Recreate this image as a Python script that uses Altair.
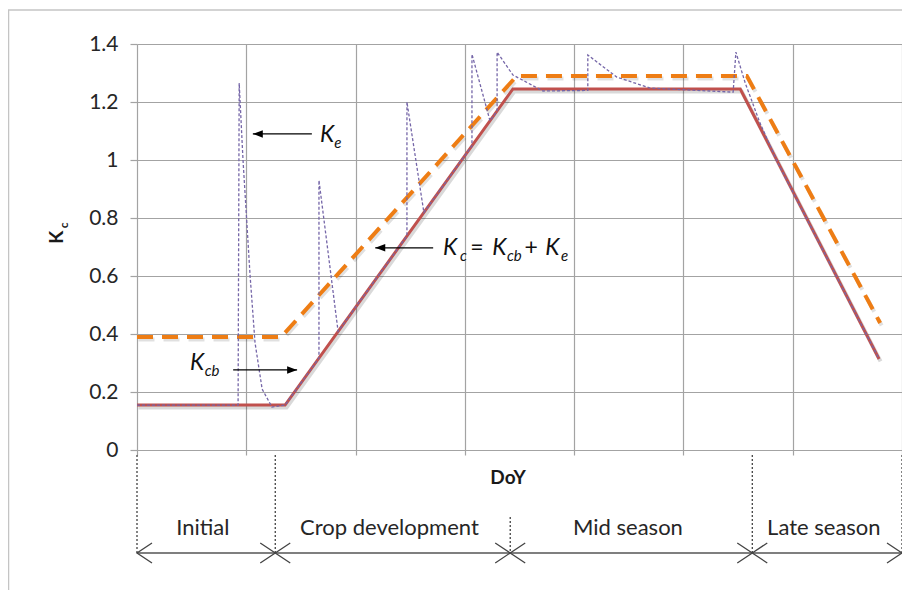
import altair as alt
import pandas as pd

# ---------------- data ----------------
# Basal crop coefficient Kcb (solid red)
kcb_day = [0, 27.1, 68.8, 110.4, 135.8]
kcb_val = [0.155, 0.155, 1.245, 1.245, 0.314]

# Crop coefficient Kc = Kcb + Ke (dashed orange)
kc_day = [0, 26.4, 69.5, 111.6, 136.0]
kc_val = [0.39, 0.39, 1.29, 1.29, 0.438]

# Daily Kcb + Ke trace (dotted purple)
ke_day = [0, 18.5, 18.7, 19.4, 20.7, 21.6, 22.9, 24.7, 27.1,
          33.3, 33.3, 36.8, 49.4, 49.4, 52.5, 61.3, 61.3, 64.6,
          65.9, 65.9, 68.8, 74.3, 82.5, 82.5, 87.8, 93.9, 109.1,
          109.6, 111.3, 114.0, 117.1, 135.8]
ke_val = [0.155, 0.155, 1.265, 1.0, 0.60, 0.37, 0.21, 0.148, 0.155,
          0.317, 0.93, 0.409, 0.738, 1.20, 0.819, 1.049, 1.365, 1.135,
          1.169, 1.372, 1.293, 1.238, 1.24, 1.362, 1.286, 1.248, 1.234,
          1.372, 1.266, 1.128, 0.997, 0.314]

# axis ticks
x_grid = [0, 20, 40, 60, 80, 100, 120, 140]
y_ticks = [0, 0.2, 0.4, 0.6, 0.8, 1.0, 1.2, 1.4]

# growth stages
stage_names = ["Initial", "Crop development", "Mid season", "Late season"]
stage_bounds = [0, 25.3, 68.3, 112.6, 140]
stage_line_top = [-0.017, -0.017, -0.231, -0.017, -0.017]
stage_line_bottom = -0.355
stage_label_y = -0.269

# math annotations
math_K_day = [33.5, 56.0, 65.0, 74.7, 9.7]
math_K_val = [1.062, 0.672, 0.672, 0.672, 0.276]
math_sub_text = ["e", "c", "cb", "e", "cb"]
math_sub_day = [36.1, 59.1, 67.7, 77.6, 12.4]
math_sub_val = [1.041, 0.652, 0.652, 0.652, 0.255]
math_op_text = ["=", "+"]
math_op_day = [61.0, 70.9]
math_op_val = [0.672, 0.672]

arrow_start_day = [32.0, 54.2, 17.6]
arrow_end_day = [21.2, 43.6, 29.3]
arrow_val = [1.090, 0.697, 0.276]
arrow_dir = ["left", "left", "right"]

GRID = "#a3a3a3"
FONT = "Lato"
TXT = "#262626"

# ---------------- tables ----------------
kcb_df = pd.DataFrame({"day": kcb_day, "val": kcb_val, "i": range(len(kcb_day))})
kc_df = pd.DataFrame({"day": kc_day, "val": kc_val, "i": range(len(kc_day))})
ke_df = pd.DataFrame({"day": ke_day, "val": ke_val, "i": range(len(ke_day))})

vlines_df = pd.DataFrame({"day": stage_bounds, "top": stage_line_top,
                          "bottom": [stage_line_bottom] * len(stage_bounds)})
seg_df = pd.DataFrame({
    "name": stage_names,
    "start": stage_bounds[:-1],
    "end": stage_bounds[1:],
    "y": [stage_line_bottom] * len(stage_names),
    "ly": [stage_label_y] * len(stage_names),
})
seg_df["mid"] = (seg_df["start"] + seg_df["end"]) / 2 - 0.6

K_df = pd.DataFrame({"day": math_K_day, "val": math_K_val, "t": ["K"] * len(math_K_day)})
sub_df = pd.DataFrame({"day": math_sub_day, "val": math_sub_val, "t": math_sub_text})
op_df = pd.DataFrame({"day": math_op_day, "val": math_op_val, "t": math_op_text})
arr_df = pd.DataFrame({"s": arrow_start_day, "e": arrow_end_day, "val": arrow_val, "dir": arrow_dir})

xs = alt.Scale(domain=[0, 140], nice=False)
ys = alt.Scale(domain=[0, 1.4], nice=False)

AX_X = alt.Axis(values=x_grid, labels=False, domain=False, ticks=True,
                tickSize=5, tickColor=GRID, grid=True, gridColor=GRID,
                gridWidth=1.2, tickWidth=1.2, title=None)
AX_Y = alt.Axis(values=y_ticks, format=".1~f", domain=False, ticks=True,
                tickSize=7, tickColor=GRID, grid=True, gridColor=GRID,
                gridWidth=1.2, tickWidth=1.2, labelFont=FONT, labelFontSize=21,
                labelColor=TXT, labelPadding=12, title=None)


def X(f):
    return alt.X(f, type="quantitative", scale=xs, axis=AX_X, title=None)


def Y(f):
    return alt.Y(f, type="quantitative", scale=ys, axis=AX_Y, title=None)


# ---------------- layers ----------------
kcb_shadow = alt.Chart(kcb_df).mark_line(
    color="#000000", opacity=0.15, strokeWidth=4, xOffset=1.5, yOffset=2.5
).encode(x=X("day"), y=Y("val"), order="i:Q")

kcb_line = alt.Chart(kcb_df).mark_line(color="#C0504D", strokeWidth=3).encode(
    x=X("day"), y=Y("val"), order="i:Q")

kc_shadow = alt.Chart(kc_df).mark_line(
    color="#000000", opacity=0.12, strokeWidth=4, strokeDash=[16, 9],
    xOffset=1.5, yOffset=2.5
).encode(x=X("day"), y=Y("val"), order="i:Q")

kc_line = alt.Chart(kc_df).mark_line(
    color="#EE7D14", strokeWidth=4, strokeDash=[16, 9]
).encode(x=X("day"), y=Y("val"), order="i:Q")

ke_line = alt.Chart(ke_df).mark_line(
    color="#7566A8", strokeWidth=1.3, strokeDash=[3, 2]
).encode(x=X("day"), y=Y("val"), order="i:Q")

# stage brackets
vlines = alt.Chart(vlines_df).mark_rule(
    color="#333333", strokeWidth=1.2, strokeDash=[2, 2]
).encode(x=X("day"), y=Y("top"), y2="bottom")

hlines = alt.Chart(seg_df).mark_rule(color="#555555", strokeWidth=1.5).encode(
    x=X("start"), x2="end", y=Y("y"))

chev_l = alt.Chart(seg_df).mark_point(
    shape="M1,-0.667L0,0L1,0.667", size=900, filled=False,
    stroke="#444444", strokeWidth=1.3, opacity=1
).encode(x=X("start"), y=Y("y"))

chev_r = alt.Chart(seg_df).mark_point(
    shape="M-1,-0.667L0,0L-1,0.667", size=900, filled=False,
    stroke="#444444", strokeWidth=1.3, opacity=1
).encode(x=X("end"), y=Y("y"))

stage_text = alt.Chart(seg_df).mark_text(
    font=FONT, fontSize=22, color=TXT, align="center", baseline="middle"
).encode(x=X("mid"), y=Y("ly"), text="name:N")

doy = alt.Chart(pd.DataFrame({"day": [67.9], "val": [-0.0966], "t": ["DoY"]})).mark_text(
    font=FONT, fontSize=19, fontWeight="bold", color="#1a1a1a",
    align="center", baseline="middle"
).encode(x=X("day"), y=Y("val"), text="t:N")

ytitle_K = alt.Chart(pd.DataFrame({"day": [-14.6], "val": [0.734], "t": ["K"]})).mark_text(
    font=FONT, fontSize=19, fontWeight="bold", color="#1a1a1a", angle=270,
    align="center", baseline="middle"
).encode(x=X("day"), y=Y("val"), text="t:N")

ytitle_c = alt.Chart(pd.DataFrame({"day": [-13.4], "val": [0.775], "t": ["c"]})).mark_text(
    font=FONT, fontSize=12, fontWeight="bold", color="#1a1a1a", angle=270,
    align="center", baseline="middle"
).encode(x=X("day"), y=Y("val"), text="t:N")

# math annotations
K_text = alt.Chart(K_df).mark_text(
    font=FONT, fontSize=23, fontStyle="italic", color="#111111",
    align="left", baseline="alphabetic"
).encode(x=X("day"), y=Y("val"), text="t:N")

sub_text = alt.Chart(sub_df).mark_text(
    font=FONT, fontSize=15, fontStyle="italic", color="#111111",
    align="left", baseline="alphabetic"
).encode(x=X("day"), y=Y("val"), text="t:N")

op_text = alt.Chart(op_df).mark_text(
    font=FONT, fontSize=23, color="#111111", align="left", baseline="alphabetic"
).encode(x=X("day"), y=Y("val"), text="t:N")

arr_lines = alt.Chart(arr_df).mark_rule(color="#000000", strokeWidth=1.3).encode(
    x=X("s"), x2="e", y=Y("val"))

head_l = alt.Chart(arr_df).transform_filter(alt.datum.dir == "left").mark_point(
    shape="M0,0L2,-0.75L2,0.75Z", size=100, filled=True, color="#000000", opacity=1
).encode(x=X("e"), y=Y("val"))

head_r = alt.Chart(arr_df).transform_filter(alt.datum.dir == "right").mark_point(
    shape="M0,0L-2,-0.75L-2,0.75Z", size=100, filled=True, color="#000000", opacity=1
).encode(x=X("e"), y=Y("val"))

# outer chart frame (decoration)
frame_df = pd.DataFrame({"k": [0]})
frame_left = alt.Chart(frame_df).mark_rule(color="#c4c4c4", strokeWidth=1.5).encode(
    x=alt.value(-128.5), y=alt.value(-34), y2=alt.value(560))
frame_top = alt.Chart(frame_df).mark_rule(color="#c4c4c4", strokeWidth=1.5).encode(
    x=alt.value(-129), x2=alt.value(765), y=alt.value(-34))

chart = alt.layer(
    kcb_shadow, kcb_line, kc_shadow, kc_line, ke_line,
    vlines, hlines, chev_l, chev_r, stage_text, doy, ytitle_K, ytitle_c,
    arr_lines, head_l, head_r, K_text, sub_text, op_text,
    frame_left, frame_top,
).properties(
    width=765, height=406,
    autosize=alt.AutoSizeParams(type="none"),
    padding={"left": 129, "top": 36, "right": 0, "bottom": 140},
    background="white",
).configure_view(stroke=None)

chart.save("out.html", embed_options={"renderer": "svg", "actions": False})
